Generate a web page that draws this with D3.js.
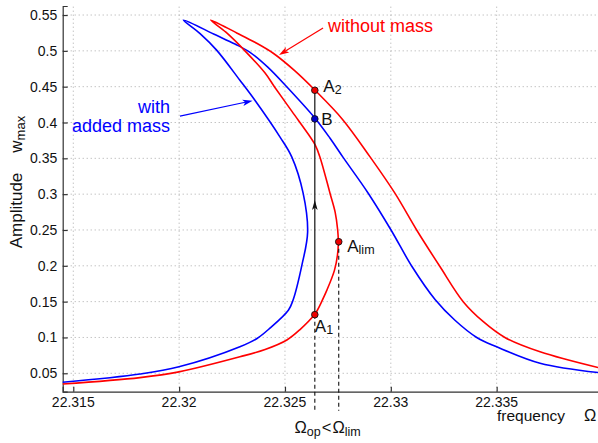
<!DOCTYPE html>
<html>
<head>
<meta charset="utf-8">
<script src="https://cdn.jsdelivr.net/npm/d3@7"></script>
<style>
  body { margin: 0; background: #fff; }
  svg { font-family: 'Liberation Sans', Arial, Helvetica, sans-serif; }
</style>
</head>
<body>
<div id="graph"></div>
<script>
// response curve without mass (red): lower branch -> turning point -> tip -> upper branch
const redFreq = [22.3145, 22.31815, 22.31999, 22.32287, 22.32406, 22.32509, 22.32571, 22.32640,
  22.32653, 22.32670, 22.32698, 22.32734, 22.32748, 22.32752, 22.32749, 22.32737, 22.32713,
  22.32665, 22.32642, 22.32613, 22.32533, 22.32450, 22.32406, 22.32311, 22.32221, 22.32149,
  22.32272, 22.32358, 22.32443, 22.32547, 22.32642, 22.32773, 22.32902, 22.33020, 22.33122,
  22.33232, 22.33342, 22.33437, 22.33539, 22.33705, 22.33979];
const redAmp = [0.035, 0.044, 0.052, 0.073, 0.0832, 0.0965, 0.111, 0.132,
  0.138, 0.148, 0.166, 0.194, 0.215, 0.233, 0.250, 0.275, 0.301,
  0.352, 0.369, 0.3825, 0.4155, 0.450, 0.469, 0.500, 0.526, 0.543,
  0.525, 0.512, 0.497, 0.472, 0.445, 0.404, 0.352, 0.301, 0.250,
  0.199, 0.150, 0.122, 0.100, 0.080, 0.058];

// response curve with added mass (blue)
const blueFreq = [22.3145, 22.31815, 22.31999, 22.32287, 22.32368, 22.32429, 22.32516, 22.32538,
  22.32580, 22.32607, 22.32586, 22.32532, 22.32476, 22.32358, 22.32287, 22.32177, 22.32099,
  22.32020, 22.32174, 22.32264, 22.32335, 22.32420, 22.32508, 22.32642, 22.32713, 22.32773,
  22.32894, 22.33001, 22.33100, 22.33209, 22.33303, 22.33406, 22.33500, 22.33705, 22.33979];
const blueAmp = [0.0374, 0.049, 0.059, 0.087, 0.0986, 0.113, 0.138, 0.152,
  0.201, 0.247, 0.301, 0.352, 0.380, 0.431, 0.459, 0.501, 0.524,
  0.543, 0.522, 0.5095, 0.498, 0.477, 0.450, 0.406, 0.378, 0.352,
  0.301, 0.250, 0.199, 0.153, 0.124, 0.100, 0.087, 0.064, 0.051];

// operating points
const omegaOp = 22.32641;
const omegaLim = 22.32754;
const pointNames = ['A', 'B', 'A', 'A'];
const pointSubs = ['2', '', 'lim', '1'];
const pointFreq = [omegaOp, omegaOp, omegaLim, omegaOp];
const pointAmp = [0.445, 0.405, 0.2336, 0.1318];
const pointColors = ['red', 'blue', 'red', 'red'];
const jumpArrowAmp = 0.292;

// text arrows [freq, amp] start -> tip
const withoutArrow = [[22.32680, 0.5319], [22.32472, 0.4942]];
const withArrow = [[22.32004, 0.409], [22.32347, 0.4304]];

const xTicks = [22.315, 22.32, 22.325, 22.33, 22.335];
const xTickLabels = ['22.315', '22.32', '22.325', '22.33', '22.335'];
const yTicks = [0.05, 0.1, 0.15, 0.2, 0.25, 0.3, 0.35, 0.4, 0.45, 0.5, 0.55];
const yTickLabels = ['0.05', '0.1', '0.15', '0.2', '0.25', '0.3', '0.35', '0.4', '0.45', '0.5', '0.55'];

const width = 598;
const height = 443;
const margin = { left: 62.7, right: 602.5, top: 6, bottom: 391.7 };

const svg = d3.select('#graph')
  .append('svg')
  .attr('width', width)
  .attr('height', height);

const x = d3.scaleLinear().domain([22.3145, 22.34]).range([margin.left, margin.right]);
const y = d3.scaleLinear().domain([0.0243, 0.5626]).range([margin.bottom, margin.top]);

// dotted grid
svg.append('g')
  .selectAll('line')
  .data(xTicks)
  .join('line')
  .attr('x1', (d) => x(d)).attr('x2', (d) => x(d))
  .attr('y1', margin.bottom).attr('y2', margin.top)
  .attr('stroke', '#aaa')
  .attr('stroke-dasharray', '1,3');
svg.append('g')
  .selectAll('line')
  .data(yTicks)
  .join('line')
  .attr('x1', margin.left).attr('x2', width)
  .attr('y1', (d) => y(d)).attr('y2', (d) => y(d))
  .attr('stroke', '#aaa')
  .attr('stroke-dasharray', '1,3');

// axes, matlab style ticks pointing inwards
const xAxis = svg.append('g')
  .attr('transform', `translate(0,${margin.bottom})`)
  .call(d3.axisTop(x).tickValues(xTicks).tickFormat('').tickSizeOuter(0).tickSize(5));
xAxis.selectAll('text').remove();
xAxis.append('g')
  .selectAll('text')
  .data(xTicks)
  .join('text')
  .attr('x', (d) => x(d))
  .attr('y', 15.5)
  .attr('text-anchor', 'middle')
  .attr('fill', '#111')
  .attr('font-size', 14)
  .text((d, i) => xTickLabels[i]);

const yAxis = svg.append('g')
  .attr('transform', `translate(${margin.left},0)`)
  .call(d3.axisRight(y).tickValues(yTicks).tickFormat('').tickSizeOuter(0).tickSize(5));
yAxis.append('g')
  .selectAll('text')
  .data(yTicks)
  .join('text')
  .attr('x', -5.5)
  .attr('y', (d) => y(d))
  .attr('dy', '0.36em')
  .attr('text-anchor', 'end')
  .attr('fill', '#111')
  .attr('font-size', 14)
  .text((d, i) => yTickLabels[i]);

svg.selectAll('.domain, .tick line').attr('stroke', '#333').attr('stroke-width', 1.2);

// axis labels
const yLabel = svg.append('text')
  .attr('transform', 'translate(21.5,248.3) rotate(-90)')
  .attr('font-size', 17)
  .attr('fill', '#111');
yLabel.append('tspan').text('Amplitude');
yLabel.append('tspan').attr('dx', 20).text('w');
yLabel.append('tspan').attr('font-size', 13).attr('dy', 3.5).text('max');

const xLabel = svg.append('text')
  .attr('x', 497)
  .attr('y', 421)
  .attr('font-size', 15.5)
  .attr('fill', '#111');
xLabel.append('tspan').text('frequency');
xLabel.append('tspan').attr('x', 584).attr('font-size', 16.5).text('Ω');

// curves
const line = d3.line()
  .x((d) => x(d[0]))
  .y((d) => y(d[1]))
  .curve(d3.curveCatmullRom.alpha(0.5));

svg.append('path')
  .datum(blueFreq.map((f, i) => [f, blueAmp[i]]))
  .attr('fill', 'none')
  .attr('stroke', '#0000ff')
  .attr('stroke-width', 1.6)
  .attr('d', line);
svg.append('path')
  .datum(redFreq.map((f, i) => [f, redAmp[i]]))
  .attr('fill', 'none')
  .attr('stroke', '#ff0000')
  .attr('stroke-width', 1.6)
  .attr('d', line);

// dashed drop lines to the frequency axis
[[omegaOp, pointAmp[3]], [omegaLim, pointAmp[2]]].forEach(([f, a]) => {
  svg.append('line')
    .attr('x1', x(f)).attr('x2', x(f))
    .attr('y1', y(a)).attr('y2', margin.bottom + 19)
    .attr('stroke', '#111')
    .attr('stroke-width', 1.1)
    .attr('stroke-dasharray', '4,3');
});

// jump A1 -> A2
svg.append('line')
  .attr('x1', x(omegaOp)).attr('x2', x(omegaOp))
  .attr('y1', y(pointAmp[3])).attr('y2', y(pointAmp[0]))
  .attr('stroke', '#111')
  .attr('stroke-width', 1.2);
const ax = x(omegaOp);
const ay = y(jumpArrowAmp);
svg.append('path')
  .attr('d', `M${ax},${ay} L${ax + 2.8},${ay + 10} L${ax},${ay + 7.5} L${ax - 2.8},${ay + 10} Z`)
  .attr('fill', '#111');

// text arrows
function drawArrow(pts, color) {
  const [x0, y0] = [x(pts[0][0]), y(pts[0][1])];
  const [x1, y1] = [x(pts[1][0]), y(pts[1][1])];
  const ang = Math.atan2(y1 - y0, x1 - x0);
  const len = 10;
  const hw = 3.2;
  const bx = x1 - len * Math.cos(ang);
  const by = y1 - len * Math.sin(ang);
  const nx = x1 - 0.75 * len * Math.cos(ang);
  const ny = y1 - 0.75 * len * Math.sin(ang);
  svg.append('line')
    .attr('x1', x0).attr('y1', y0).attr('x2', nx).attr('y2', ny)
    .attr('stroke', color)
    .attr('stroke-width', 1.2);
  svg.append('path')
    .attr('d', `M${x1},${y1} L${bx + hw * Math.sin(ang)},${by - hw * Math.cos(ang)} L${nx},${ny} L${bx - hw * Math.sin(ang)},${by + hw * Math.cos(ang)} Z`)
    .attr('fill', color);
}
drawArrow(withoutArrow, '#ff0000');
drawArrow(withArrow, '#0000ff');

svg.append('text')
  .attr('x', x(withoutArrow[0][0]) + 5)
  .attr('y', y(withoutArrow[0][1]) + 3.7)
  .attr('font-size', 18)
  .attr('fill', '#ff0000')
  .text('without mass');
svg.append('text')
  .attr('x', x(withArrow[0][0]) - 10)
  .attr('y', y(withArrow[0][1]) - 3)
  .attr('text-anchor', 'end')
  .attr('font-size', 18)
  .attr('fill', '#0000ff')
  .text('with');
svg.append('text')
  .attr('x', x(withArrow[0][0]) - 10)
  .attr('y', y(withArrow[0][1]) + 16)
  .attr('text-anchor', 'end')
  .attr('font-size', 18)
  .attr('fill', '#0000ff')
  .text('added mass');

// points and their labels
const labelOffsets = [[8.5, 2], [6.5, 6.5], [8.5, 10], [0, 17]];
pointFreq.forEach((f, i) => {
  svg.append('circle')
    .attr('cx', x(f))
    .attr('cy', y(pointAmp[i]))
    .attr('r', 3.3)
    .attr('fill', pointColors[i] === 'red' ? '#ee0000' : '#0000cc')
    .attr('stroke', '#111')
    .attr('stroke-width', 0.9);
  const t = svg.append('text')
    .attr('x', x(f) + labelOffsets[i][0])
    .attr('y', y(pointAmp[i]) + labelOffsets[i][1])
    .attr('font-size', 17)
    .attr('fill', '#111');
  t.append('tspan').text(pointNames[i]);
  if (pointSubs[i]) {
    t.append('tspan').attr('font-size', 12.5).attr('dy', 2).text(pointSubs[i]);
  }
});

// omega_op < omega_lim
const omegaText = svg.append('text')
  .attr('x', 294.5)
  .attr('y', 433)
  .attr('font-size', 16.5)
  .attr('fill', '#111');
omegaText.append('tspan').text('Ω');
omegaText.append('tspan').attr('font-size', 12.5).attr('dy', 3).text('op');
omegaText.append('tspan').attr('dy', -3).attr('dx', 1).text('<');
omegaText.append('tspan').attr('dx', 1).text('Ω');
omegaText.append('tspan').attr('font-size', 12.5).attr('dy', 3).text('lim');
</script>
</body>
</html>
